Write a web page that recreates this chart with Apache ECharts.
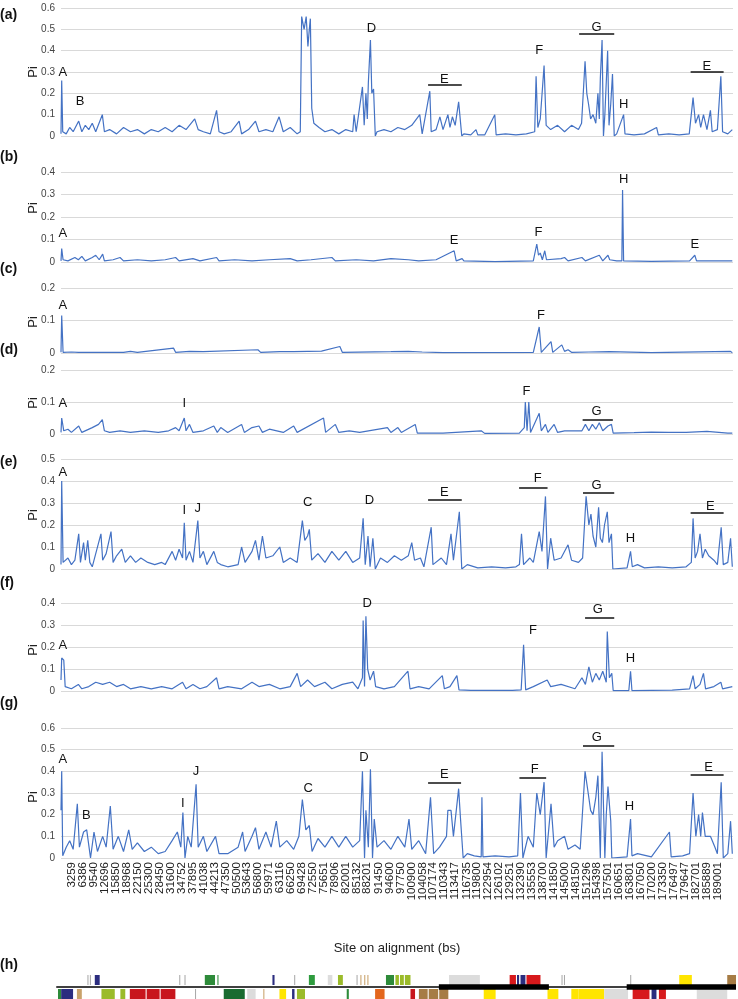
<!DOCTYPE html>
<html><head><meta charset="utf-8">
<script src="https://cdn.jsdelivr.net/npm/echarts@6/dist/echarts.min.js"></script>
<style>html,body{margin:0;padding:0;background:#fff}#main{width:738px;height:999px}</style>
</head><body><div id="main"></div>
<script>
// x 位置单位：kb
var tickLabels = [113,3259,6386,9540,12696,15850,18968,22150,25300,28450,31600,34752,37895,41038,44213,47350,50500,53643,56800,59971,63116,66250,69428,72550,75651,78906,82001,85132,88201,91450,94600,97750,100900,104058,107174,110343,113417,116735,119800,122954,126102,129251,132390,135553,138700,141850,145000,148150,151296,154398,157501,160651,163801,167050,170200,173350,176497,179647,182701,185889,189001,192250];

var piA = [[0,0.01],[0.2,0.26],[0.5,0.02],[1.5,0.01],[2.5,0.04],[3.5,0.02],[5.1,0.07],[6,0.02],[7,0.05],[8,0.03],[9,0.06],[10,0.02],[11.9,0.1],[12.5,0.02],[14,0.03],[16,0.01],[18,0.04],[20,0.02],[22,0.03],[24,0.01],[26,0.03],[28,0.02],[30,0.04],[32,0.02],[34,0.05],[36,0.03],[38.5,0.08],[39.5,0.03],[41,0.02],[43,0.01],[44.8,0.12],[45.5,0.02],[47,0.01],[49,0.02],[51.3,0.07],[52,0.01],[54,0.03],[56,0.07],[57,0.02],[59,0.03],[61,0.02],[62.8,0.09],[64,0.02],[66,0.04],[68,0.01],[68.9,0.02],[69.3,0.56],[70,0.5],[70.6,0.56],[71.1,0.42],[71.5,0.5],[71.8,0.55],[72.2,0.13],[72.8,0.06],[74.3,0.04],[76,0.02],[78,0.03],[80,0.01],[82,0.03],[84,0.02],[84.4,0.1],[85,0.02],[86.8,0.23],[87.3,0.05],[87.8,0.2],[88.2,0.08],[88.5,0.25],[89.1,0.45],[89.5,0.2],[90,0.22],[90.5,0.0],[91,0.02],[93,0.03],[95,0.02],[97,0.04],[99,0.03],[101,0.05],[103.3,0.1],[104,0.01],[106.2,0.21],[106.6,0.02],[108,0.03],[109.1,0.09],[110,0.03],[111.4,0.1],[112,0.04],[112.7,0.09],[113.5,0.05],[114.5,0.16],[115.4,0.0],[116,0.01],[118,0.005],[119.5,0.03],[120,0.005],[122,0.005],[124.9,0.1],[125.3,0.005],[128,0.01],[131,0.005],[134,0.01],[136.4,0.02],[136.8,0.28],[137.3,0.04],[138,0.08],[139.1,0.33],[139.7,0.05],[141,0.03],[143,0.05],[145,0.02],[147,0.05],[149,0.03],[149.9,0.06],[150.9,0.35],[151.4,0.2],[151.9,0.15],[152.5,0.08],[153.2,0.1],[154,0.06],[154.6,0.2],[155,0.08],[155.3,0.27],[155.8,0.45],[156.2,0.0],[156.6,0.1],[157.4,0.4],[157.8,0.05],[158.3,0.15],[158.8,0.29],[159.3,0.0],[160,0.01],[162,0.1],[162.4,0.01],[165,0.005],[168,0.01],[171.5,0.04],[172,0.005],[175,0.01],[178,0.005],[180.9,0.01],[182,0.18],[182.7,0.06],[183.6,0.1],[184.2,0.04],[185,0.1],[186,0.03],[187,0.12],[187.5,0.02],[189,0.03],[190,0.28],[190.5,0.02],[192,0.01],[193.3,0.03]];

var piB = [[0,0.005],[0.2,0.06],[0.6,0.01],[2,0.005],[4,0.02],[5,0.01],[6,0.025],[7,0.005],[9,0.02],[10,0.03],[11,0.01],[12,0.035],[12.5,0.005],[15,0.01],[17,0.02],[18,0.005],[22,0.01],[26,0.005],[30,0.01],[33,0.02],[34,0.005],[38,0.015],[40,0.005],[44.8,0.02],[45.5,0.005],[50,0.01],[55,0.005],[60,0.01],[66,0.015],[68,0.005],[72,0.01],[78,0.02],[79,0.005],[85,0.01],[90,0.005],[95,0.015],[100,0.01],[103,0.005],[108,0.01],[113.2,0.05],[113.8,0.005],[115.5,0.015],[116,0.005],[125,0.002],[136,0.005],[137,0.08],[137.5,0.03],[138,0.04],[138.6,0.01],[139.3,0.05],[139.8,0.01],[144,0.015],[145,0.02],[146,0.005],[150,0.02],[151,0.005],[155,0.03],[156,0.005],[157.5,0.03],[158,0.01],[160,0.005],[161.5,0.005],[161.7,0.32],[162,0.005],[170,0.003],[181,0.005],[182.5,0.03],[183,0.005],[193.3,0.005]];

var piC = [[0,0.002],[0.2,0.115],[0.6,0.002],[3,0.003],[5,0.002],[18,0.002],[20,0.005],[22,0.002],[32.4,0.015],[33,0.002],[37,0.005],[41,0.004],[56.7,0.01],[57.5,0.002],[63,0.004],[67,0.004],[75,0.006],[80.3,0.02],[81,0.002],[95,0.004],[100,0.005],[104,0.003],[110,0.001],[136,0.002],[137.7,0.08],[138.3,0.002],[141.1,0.035],[141.6,0.002],[144.2,0.025],[145,0.005],[146,0.01],[147,0.002],[152,0.003],[158,0.004],[170,0.001],[192.8,0.005],[193.3,0.001]];

var piD = [[0,0.005],[0.2,0.05],[0.8,0.01],[2,0.015],[3,0.005],[5.1,0.025],[6,0.005],[9,0.02],[10.8,0.03],[11.9,0.045],[12.5,0.01],[14,0.005],[17,0.01],[20,0.005],[24,0.01],[28,0.005],[31,0.01],[33,0.02],[34,0.01],[35.5,0.05],[36,0.01],[37,0.03],[38,0.005],[41,0.01],[44,0.025],[45,0.005],[46,0.02],[48,0.005],[52,0.03],[52.8,0.005],[55,0.02],[57,0.025],[58,0.005],[60,0.015],[64,0.005],[67,0.025],[68,0.005],[75.6,0.05],[76.2,0.005],[79,0.03],[80,0.005],[83,0.01],[86,0.005],[94,0.02],[95,0.005],[97,0.02],[98,0.005],[102,0.03],[102.6,0.003],[110,0.003],[121,0.01],[122,0.002],[132,0.003],[133.4,0.02],[133.7,0.1],[134.2,0.01],[134.7,0.1],[135.2,0.005],[137.7,0.065],[138.3,0.01],[139.5,0.03],[140.2,0.005],[142,0.03],[143,0.005],[145,0.01],[150,0.01],[151,0.03],[152,0.01],[153,0.03],[154,0.015],[155,0.035],[156,0.01],[157.5,0.025],[158.5,0.03],[159,0.003],[165,0.004],[170,0.006],[175,0.005],[180,0.005],[186,0.008],[192,0.003],[193.3,0.003]];

var piE = [[0,0.02],[0.2,0.4],[0.6,0.03],[2,0.05],[3,0.02],[4,0.04],[5.1,0.16],[5.6,0.03],[6.5,0.12],[7,0.04],[7.7,0.13],[8.3,0.03],[9,0.01],[11.5,0.16],[12,0.04],[13,0.07],[14.4,0.17],[15,0.03],[16,0.06],[17.5,0.09],[18.5,0.03],[20,0.06],[21.5,0.03],[23,0.05],[25,0.03],[27,0.02],[29,0.03],[30,0.02],[32,0.08],[33,0.04],[34,0.09],[35,0.05],[35.5,0.21],[36,0.04],[37,0.08],[38,0.03],[39.4,0.22],[40,0.05],[41,0.08],[42,0.02],[44,0.08],[45,0.03],[46,0.02],[48,0.01],[51,0.02],[52,0.1],[53,0.03],[55,0.08],[56,0.13],[57,0.04],[58,0.15],[59,0.05],[61,0.06],[63,0.1],[64,0.03],[66,0.05],[68,0.03],[69.5,0.22],[70.2,0.13],[71,0.15],[71.5,0.18],[72.2,0.04],[74,0.07],[76,0.03],[78,0.08],[80,0.04],[82,0.08],[84,0.03],[86,0.05],[87,0.23],[87.6,0.02],[88.4,0.15],[89,0.01],[89.8,0.14],[90.5,0.0],[92,0.05],[94,0.03],[96,0.06],[98,0.04],[100,0.06],[101,0.12],[101.8,0.04],[103.5,0.05],[104.5,0.01],[106.6,0.19],[107.1,0.02],[109.5,0.05],[111,0.02],[112.3,0.16],[113,0.04],[114.7,0.26],[115.4,0.0],[117,0.02],[120,0.005],[124,0.01],[128,0.005],[131,0.01],[132,0.02],[132.6,0.16],[133.2,0.02],[135,0.05],[136,0.03],[137.7,0.17],[138.5,0.08],[139.5,0.33],[140.1,0.0],[141,0.14],[142,0.04],[144,0.05],[146,0.11],[147,0.04],[149,0.03],[150.2,0.05],[151.2,0.33],[152,0.2],[152.6,0.25],[153.2,0.15],[154,0.1],[154.8,0.28],[155.3,0.14],[155.9,0.12],[156.5,0.2],[157.3,0.26],[157.8,0.12],[158.5,0.16],[158.9,0.0],[163,0.005],[164,0.08],[164.5,0.01],[166,0.02],[168,0.005],[172,0.01],[176,0.005],[180,0.01],[181.5,0.03],[182,0.23],[182.6,0.05],[183.3,0.08],[184,0.16],[184.7,0.05],[185.5,0.09],[186.5,0.06],[188,0.04],[189,0.02],[190.1,0.19],[190.7,0.02],[192,0.03],[192.8,0.14],[193.3,0.01]];

var piF = [[0,0.05],[0.2,0.15],[0.8,0.14],[1.2,0.02],[3,0.01],[5,0.03],[6,0.01],[8,0.02],[10,0.04],[12,0.03],[14,0.04],[16,0.02],[18,0.03],[20,0.01],[23,0.02],[26,0.01],[29,0.02],[32,0.01],[35,0.04],[36,0.01],[38,0.03],[40,0.01],[42,0.02],[44.8,0.06],[45.5,0.01],[48,0.02],[52,0.01],[55,0.04],[57,0.02],[60,0.03],[63,0.01],[66,0.02],[68,0.08],[69,0.02],[71,0.05],[73,0.02],[76,0.04],[78,0.01],[81,0.03],[84,0.04],[85.5,0.01],[86.8,0.06],[87,0.32],[87.4,0.02],[87.8,0.34],[88.3,0.1],[89,0.05],[90,0.09],[90.6,0.02],[93,0.01],[96,0.02],[99.9,0.09],[100.5,0.01],[103,0.02],[106,0.01],[109.8,0.07],[110.4,0.01],[112,0.02],[114,0.07],[114.6,0.005],[118,0.003],[124,0.003],[130,0.003],[132.5,0.005],[133.2,0.21],[133.8,0.005],[136,0.02],[140,0.05],[141,0.02],[144,0.03],[148,0.01],[150,0.06],[151,0.03],[152,0.11],[153,0.04],[154,0.08],[155,0.05],[156,0.09],[157,0.04],[157.3,0.27],[157.9,0.06],[158.6,0.08],[159,0.002],[163.5,0.002],[164,0.09],[164.4,0.002],[170,0.003],[176,0.004],[181,0.01],[182,0.07],[182.6,0.01],[184,0.03],[185,0.08],[185.6,0.01],[188,0.02],[190,0.04],[190.5,0.01],[193.3,0.02]];

var piG = [[0,0.22],[0.2,0.4],[0.5,0.01],[1.5,0.05],[2.5,0.08],[3.5,0.04],[4.7,0.25],[5.3,0.05],[6.5,0.12],[7.4,0.13],[8.5,0.0],[9.5,0.12],[10.5,0.03],[12,0.1],[13,0.05],[14.2,0.24],[15,0.04],[16.5,0.1],[18,0.03],[19.5,0.13],[20.5,0.04],[22,0.07],[24,0.03],[26,0.05],[28,0.02],[30,0.03],[32,0.08],[33.5,0.12],[34.5,0.05],[35.1,0.21],[35.7,0.0],[36.5,0.1],[37.5,0.05],[38.9,0.34],[39.5,0.05],[41,0.1],[42,0.03],[44.5,0.1],[45.5,0.02],[48,0.02],[51,0.05],[52.3,0.12],[53,0.03],[55,0.1],[56,0.14],[57,0.04],[59,0.12],[60.5,0.05],[62,0.17],[63,0.05],[65,0.08],[67,0.04],[68.5,0.1],[69.5,0.27],[70.5,0.13],[71.5,0.15],[72.3,0.03],[74,0.09],[76,0.05],[78,0.1],[80,0.05],[82,0.1],[84,0.05],[86,0.08],[86.8,0.4],[87.4,0.0],[87.8,0.22],[88.5,0.05],[89.1,0.41],[89.7,0.0],[90.2,0.18],[91,0.05],[93,0.08],[95,0.04],[97,0.1],[99,0.05],[100.2,0.18],[101,0.04],[103,0.08],[105,0.02],[106.4,0.28],[107.3,0.02],[109,0.05],[111,0.1],[111.4,0.22],[112.3,0.22],[113,0.1],[114.5,0.32],[115,0.19],[115.8,0.0],[117,0.02],[119,0.01],[121,0.005],[121.2,0.28],[121.5,0.005],[125,0.01],[129,0.005],[131.5,0.01],[132.3,0.3],[133,0.0],[134.5,0.1],[136,0.05],[137,0.3],[138,0.2],[139.1,0.35],[139.7,0.0],[141.1,0.25],[142,0.05],[143,0.08],[145,0.1],[146,0.04],[148,0.06],[149.5,0.04],[150.9,0.4],[151.8,0.3],[152.5,0.22],[153.2,0.2],[154,0.28],[154.6,0.38],[155.3,0.0],[155.8,0.49],[156.6,0.0],[157,0.2],[157.5,0.33],[158.3,0.17],[158.6,0.0],[163,0.005],[164,0.18],[164.4,0.01],[166,0.02],[170,0.005],[175.2,0.12],[175.7,0.005],[179,0.01],[181,0.02],[182,0.3],[182.8,0.1],[183.6,0.2],[184.2,0.1],[184.7,0.21],[185.5,0.1],[187,0.1],[188.3,0.05],[189,0.02],[190.1,0.35],[190.7,0.0],[192,0.02],[192.8,0.17],[193.3,0.02]];

// 字母标注：[字母, kb, Pi]；横线：[起点kb, 终点kb, Pi]
var notesA = [['A',0.5,0.3],['B',5.5,0.16],['C',70.5,0.615],['D',89.4,0.505],['E',110.4,0.267],['F',137.7,0.4],['G',154.2,0.51],['H',162,0.149],['E',186,0.325]];
var barsA = [[105.7,115.4,0.239],[149.2,159.3,0.479],[181.3,190.8,0.303]];
var notesB = [['A',0.5,0.126],['E',113.2,0.096],['F',137.5,0.133],['H',162,0.366],['E',182.5,0.079]];
var notesC = [['A',0.5,0.145],['F',138.2,0.117]];
var notesD = [['A',0.5,0.096],['I',35.5,0.096],['F',134,0.133],['G',154.2,0.07]];
var barsD = [[150.2,158.9,0.045]];
var notesE = [['A',0.5,0.44],['I',35.5,0.266],['J',39.4,0.276],['C',71,0.304],['D',88.8,0.31],['E',110.4,0.349],['F',137.3,0.41],['G',154.2,0.38],['H',164,0.137],['E',187,0.284]];
var barsE = [[105.7,115.4,0.314],[131.9,140.1,0.37],[150.3,159.3,0.347],[181.3,190.8,0.254]];
var notesF = [['A',0.5,0.205],['D',88.2,0.4],['F',135.9,0.276],['G',154.6,0.371],['H',164,0.147]];
var barsF = [[150.9,159.3,0.333]];
var notesG = [['A',0.5,0.454],['B',7.3,0.197],['I',35.1,0.254],['J',38.9,0.4],['C',71.2,0.323],['D',87.2,0.466],['E',110.4,0.386],['F',136.4,0.408],['G',154.3,0.558],['H',163.7,0.238],['E',186.5,0.417]];
var barsG = [[105.7,115.2,0.348],[132,139.7,0.369],[150.3,159.3,0.52],[181.3,190.8,0.382]];

// (h) 基因图：[起点kb, 终点kb, 颜色]
var genesTop = [[8.4,8.7,'#aaaaaa'],[9.1,9.4,'#aaaaaa'],[10.5,11.9,'#2b2d7f'],[34.6,34.9,'#aaaaaa'],[36.1,36.4,'#aaaaaa'],[41.9,44.8,'#2e8b3a'],[45.5,45.8,'#2e8b3a'],[61.2,61.8,'#2b2d7f'],[67.4,67.7,'#aaaaaa'],[71.6,73.3,'#2e9b3e'],[77,78.3,'#dddddd'],[79.9,81.3,'#9bbb2a'],[85.2,85.5,'#aaaaaa'],[86.3,86.6,'#c9a26a'],[87.4,87.7,'#c9a26a'],[88.3,88.6,'#c9a26a'],[93.6,95.9,'#2e8b3a'],[96.3,97.3,'#9bbb2a'],[97.6,98.7,'#9bbb2a'],[99,100.6,'#9bbb2a'],[111.6,120.4,'#dcdcdc'],[128.9,130.7,'#d7191c'],[131,131.6,'#2b2d7f'],[132,133.4,'#2b2d7f'],[133.7,137.7,'#d7191c'],[143.7,144,'#aaaaaa'],[144.4,144.7,'#aaaaaa'],[163.3,163.6,'#aaaaaa'],[177.3,180.9,'#ffe500'],[191,193.5,'#a67c45']];
var genesBottom = [[0,0.9,'#2e8b3a'],[0.9,4.3,'#2b2d7f'],[5.4,6.8,'#c9a26a'],[12.4,16.2,'#9bbb2a'],[17.8,19.2,'#9bbb2a'],[20.5,25,'#c8161d'],[25.3,29,'#c8161d'],[29.3,33.5,'#c8161d'],[39.1,39.4,'#aaaaaa'],[47.3,53.3,'#1a6b30'],[54,56.4,'#dcdcdc'],[58.6,58.9,'#c9a26a'],[63.2,65.1,'#ffe500'],[66.8,67.5,'#2b2d7f'],[68.2,70.5,'#9bbb2a'],[82.4,83,'#2e8b3a'],[90.5,93.2,'#e4661c'],[100.6,101.9,'#c8161d'],[103,105.5,'#a67c45'],[105.8,108.5,'#a67c45'],[108.8,111.4,'#a67c45'],[121.5,124.9,'#ffe500'],[139.7,142.8,'#ffe500'],[146.5,148.5,'#ffe500'],[148.5,155.9,'#ffe500'],[155.9,162.7,'#dcdcdc'],[164,168.8,'#d7191c'],[169.4,170.8,'#2b2d7f'],[171.5,173.5,'#d7191c'],[182.3,191,'#dcdcdc']];
var thickLine = [[108.7,140.1],[162.3,193.5]];

var myChart = echarts.init(document.getElementById('main'));

var panels = [
    { tag: '(a)', data: piA, notes: notesA, bars: barsA, top: 8, height: 128, max: 0.6, tagY: 8, piY: 72 },
    { tag: '(b)', data: piB, notes: notesB, bars: [], top: 172, height: 90, max: 0.4, tagY: 150, piY: 208 },
    { tag: '(c)', data: piC, notes: notesC, bars: [], top: 288, height: 65, max: 0.2, tagY: 262, piY: 322 },
    { tag: '(d)', data: piD, notes: notesD, bars: barsD, top: 370, height: 64, max: 0.2, tagY: 343, piY: 403 },
    { tag: '(e)', data: piE, notes: notesE, bars: barsE, top: 459, height: 110, max: 0.5, tagY: 455, piY: 515 },
    { tag: '(f)', data: piF, notes: notesF, bars: barsF, top: 603, height: 88, max: 0.4, tagY: 576, piY: 650 },
    { tag: '(g)', data: piG, notes: notesG, bars: barsG, top: 728, height: 130, max: 0.6, tagY: 696, piY: 797 }
];

var FONT = 'Liberation Sans';
var grids = [], xAxes = [], yAxes = [], series = [], graphics = [];

panels.forEach(function (p, i) {
    var last = i === panels.length - 1;
    grids.push({ left: 61, right: 5, top: p.top, height: p.height });
    xAxes.push({
        type: 'value', gridIndex: i, min: 0, max: 193.5,
        axisLine: { show: false }, axisTick: { show: false }, splitLine: { show: false },
        axisLabel: last ? {
            customValues: tickLabels.map(function (v) { return v / 1000; }),
            formatter: function (v) { return Math.round(v * 1000); },
            rotate: 90, fontSize: 11.5, color: '#222', fontFamily: FONT, margin: 4
        } : { show: false },
        name: last ? 'Site on alignment (bs)' : '',
        nameLocation: 'middle', nameGap: 84,
        nameTextStyle: { fontSize: 13, color: '#222', fontFamily: FONT }
    });
    yAxes.push({
        type: 'value', gridIndex: i, min: 0, max: p.max, interval: 0.1,
        axisLine: { show: false }, axisTick: { show: false },
        splitLine: { lineStyle: { color: '#d9d9d9' } },
        axisLabel: { fontSize: 10, color: '#444', fontFamily: FONT, margin: 6,
            formatter: function (v) { return +v.toFixed(1); } }
    });
    series.push({
        type: 'line', xAxisIndex: i, yAxisIndex: i, data: p.data,
        symbol: 'none', lineStyle: { color: '#4472c4', width: 1.2 }, silent: true, animation: false,
        markPoint: {
            symbol: 'circle', symbolSize: 0, animation: false,
            label: { show: true, position: 'inside', color: '#111', fontSize: 13, fontFamily: FONT,
                formatter: function (d) { return d.name; } },
            data: p.notes.map(function (n) { return { name: n[0], coord: [n[1], n[2]] }; })
        },
        markLine: {
            symbol: 'none', silent: true, animation: false,
            lineStyle: { color: '#111', width: 1.5, type: 'solid' }, label: { show: false },
            data: p.bars.map(function (b) { return [{ coord: [b[0], b[2]] }, { coord: [b[1], b[2]] }]; })
        }
    });
    graphics.push({ type: 'text', left: 0, top: p.tagY,
        style: { text: p.tag, font: 'bold 14px "Liberation Sans"', fill: '#111' } });
    graphics.push({ type: 'text', x: 33, y: p.piY, rotation: Math.PI / 2,
        style: { text: 'Pi', font: '13px "Liberation Sans"', fill: '#222', align: 'center', verticalAlign: 'middle' } });
});

// (h) 面板
var hi = panels.length;
grids.push({ left: 58, right: 2, top: 975, height: 24 });
xAxes.push({ type: 'value', gridIndex: hi, min: 0, max: 193.5, show: false });
yAxes.push({ type: 'value', gridIndex: hi, min: 0, max: 3, show: false });
var hData = [];
genesTop.forEach(function (g) { hData.push([g[0], g[1], 1.75, 3, g[2]]); });
genesBottom.forEach(function (g) { hData.push([g[0], g[1], 0, 1.25, g[2]]); });
hData.push([-0.5, 193.5, 1.4, 1.6, '#000']);
thickLine.forEach(function (t) { hData.push([t[0], t[1], 1.15, 1.85, '#000']); });
series.push({
    type: 'custom', xAxisIndex: hi, yAxisIndex: hi, data: hData, silent: true, animation: false,
    renderItem: function (params, api) {
        var p0 = api.coord([api.value(0), api.value(3)]);
        var p1 = api.coord([api.value(1), api.value(2)]);
        return { type: 'rect', shape: { x: p0[0], y: p0[1], width: Math.max(p1[0] - p0[0], 1), height: p1[1] - p0[1] },
            style: { fill: hData[params.dataIndex][4] } };
    }
});
graphics.push({ type: 'text', left: 0, top: 958,
    style: { text: '(h)', font: 'bold 14px "Liberation Sans"', fill: '#111' } });

myChart.setOption({
    animation: false,
    grid: grids, xAxis: xAxes, yAxis: yAxes, series: series, graphic: graphics
});
</script></body></html>
